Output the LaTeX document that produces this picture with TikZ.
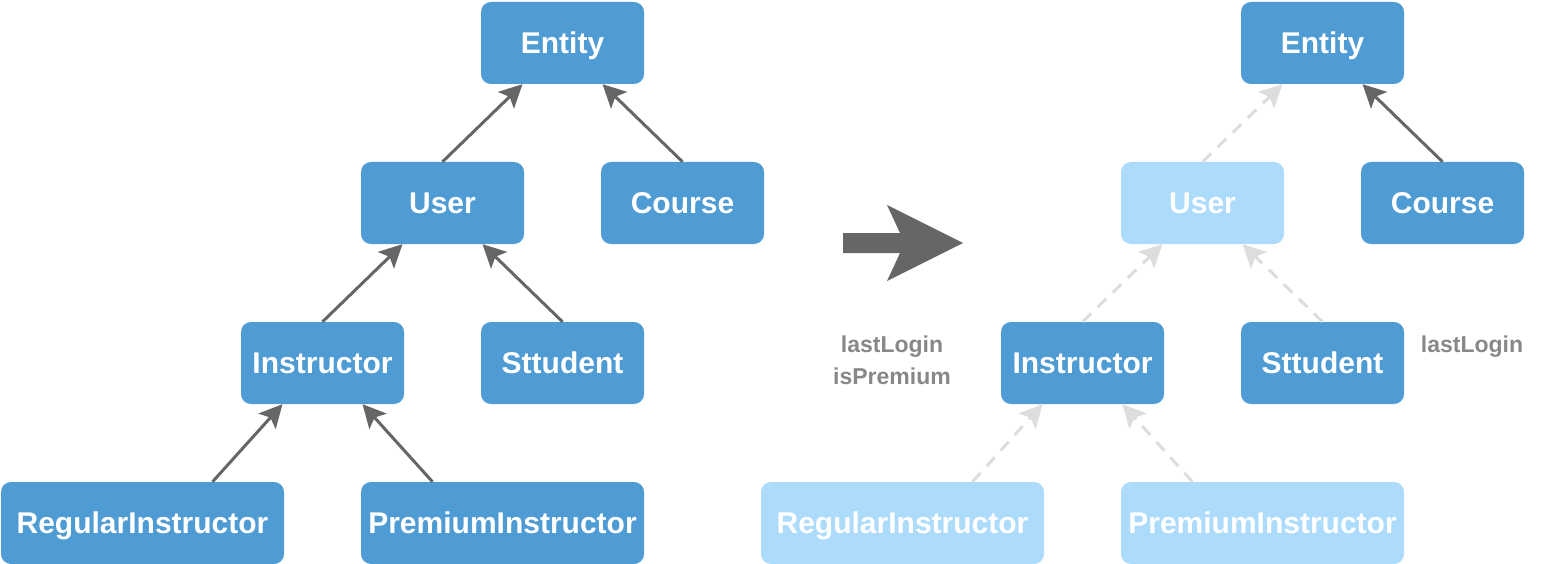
\documentclass[tikz,border=0pt]{standalone}
\usepackage{fontspec}
\setmainfont{Liberation Sans}
\usetikzlibrary{arrows.meta}
\definecolor{boxblue}{RGB}{79,155,212}
\definecolor{boxlight}{RGB}{173,219,251}
\definecolor{arrowgray}{RGB}{102,102,102}
\definecolor{dashgray}{RGB}{221,221,221}
\definecolor{labelgray}{RGB}{136,136,136}
\begin{document}
\begin{tikzpicture}[x=1pt,y=-1pt,
  cls/.style={rectangle, rounded corners=10pt, fill=boxblue, text=white,
    minimum height=82pt, inner sep=0pt, text height=21.5pt, text depth=0pt,
    font=\fontsize{30}{34}\selectfont\bfseries},
  clsw/.style={cls, minimum width=163pt},
  clsl/.style={cls, minimum width=283pt},
  faded/.style={fill=boxlight},
  inh/.style={draw=arrowgray, line width=3pt,
    -{Stealth[length=23pt,width=23pt,inset=5pt]}},
  inhd/.style={draw=dashgray, line width=3pt, dash pattern=on 12pt off 9pt,
    -{Stealth[length=23pt,width=23pt,inset=5pt]}},
  lbl/.style={text=labelgray, align=center,
    font=\fontsize{23}{32}\selectfont\bfseries}
]
\useasboundingbox (0,0) rectangle (1562,564);
% left diagram
\node[clsw] (e1) at (562.5,43) {Entity};
\node[clsw] (u1) at (442.5,203) {User};
\node[clsw] (c1) at (682.5,203) {Course};
\node[clsw] (i1) at (322.5,363) {Instructor};
\node[clsw] (s1) at (562.5,363) {Sttudent};
\node[clsl] (r1) at (142.5,523) {RegularInstructor};
\node[clsl] (p1) at (502.5,523) {PremiumInstructor};
\draw[inh] (u1.north) -- ([xshift=-40pt]e1.south);
\draw[inh] (c1.north) -- ([xshift=40pt]e1.south);
\draw[inh] (i1.north) -- ([xshift=-40pt]u1.south);
\draw[inh] (s1.north) -- ([xshift=40pt]u1.south);
\draw[inh] ([xshift=70pt]r1.north) -- ([xshift=-40pt]i1.south);
\draw[inh] ([xshift=-70pt]p1.north) -- ([xshift=40pt]i1.south);
% big arrow
\fill[arrowgray] (843,233) -- (900,233) -- (887,205) -- (963,243) -- (887,281) -- (900,253) -- (843,253) -- cycle;
% right diagram
\node[clsw] (e2) at (1322.5,43) {Entity};
\node[clsw,faded] (u2) at (1202.5,203) {User};
\node[clsw] (c2) at (1442.5,203) {Course};
\node[clsw] (i2) at (1082.5,363) {Instructor};
\node[clsw] (s2) at (1322.5,363) {Sttudent};
\node[clsl,faded] (r2) at (902.5,523) {RegularInstructor};
\node[clsl,faded] (p2) at (1262.5,523) {PremiumInstructor};
\draw[inhd] (u2.north) -- ([xshift=-40pt]e2.south);
\draw[inh] (c2.north) -- ([xshift=40pt]e2.south);
\draw[inhd] (i2.north) -- ([xshift=-40pt]u2.south);
\draw[inhd] (s2.north) -- ([xshift=40pt]u2.south);
\draw[inhd] ([xshift=70pt]r2.north) -- ([xshift=-40pt]i2.south);
\draw[inhd] ([xshift=-70pt]p2.north) -- ([xshift=40pt]i2.south);
% labels
\node[lbl] (l1) at (892,360) {lastLogin\\isPremium};
\node[lbl] (l2) at (1472,347) {lastLogin};
\end{tikzpicture}
\end{document}
